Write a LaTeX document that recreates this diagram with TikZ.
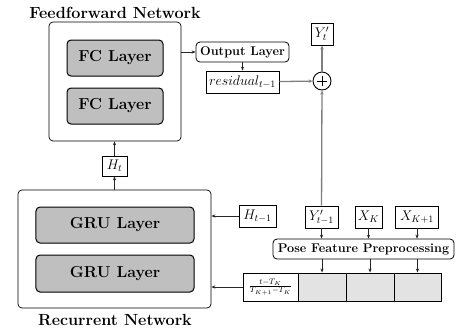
\RequirePackage{fix-cm}
\documentclass[tikz,border=0pt]{standalone}
\usetikzlibrary{arrows.meta}
\begin{document}
\begin{tikzpicture}[x=1bp,y=-1bp,
  box/.style={draw, inner sep=0pt, line width=0.7bp},
  outerbox/.style={box, rounded corners=4bp, fill=white},
  layer/.style={box, rounded corners=4bp, fill=gray!50, line width=1bp,
    font=\fontsize{16}{19}\selectfont\bfseries},
  title/.style={font=\fontsize{16.2}{19}\selectfont\bfseries, inner sep=0pt},
  var/.style={box, line width=0.9bp, font=\fontsize{14}{16}\selectfont},
  pill/.style={box, rounded corners=4bp, line width=0.8bp,
    font=\fontsize{12.7}{15}\selectfont\bfseries},
  cell/.style={box, line width=1bp, minimum height=28bp, fill=gray!22},
  arr/.style={-{Stealth[length=4bp,width=3.2bp]}, line width=0.6bp, black!85},
  garr/.style={-{Stealth[length=4bp,width=3.4bp]}, line width=1.3bp, gray},
]
\useasboundingbox (0,0) rectangle (464,330);

% feedforward part
\node[title] (fftitle) at (115,13) {Feedforward Network};
\node[outerbox, minimum width=132bp, minimum height=119bp] (ff) at (115,81.5) {};
\node[layer, minimum width=96bp, minimum height=36bp] (fc1) at (115,58) {FC Layer};
\node[layer, minimum width=96bp, minimum height=36bp] (fc2) at (115,106) {FC Layer};

% hidden state passed upwards
\node[var, minimum width=25bp, minimum height=20bp] (ht) at (114.5,166) {$H_t$};

% recurrent part
\node[outerbox, minimum width=193bp, minimum height=118bp] (rec) at (114.5,249) {};
\node[layer, minimum width=158bp, minimum height=36bp] (gru1) at (115,225) {GRU Layer};
\node[layer, minimum width=158bp, minimum height=37bp] (gru2) at (115,273.5) {GRU Layer};
\node[title] (rectitle) at (115,320) {Recurrent Network};

% output and residual
\node[pill, minimum width=93bp, minimum height=20bp] (out) at (242.5,52) {Output Layer};
\node[var, minimum width=73bp, minimum height=22bp] (res) at (242.5,82) {$residual_{t-1}$};
\node[draw, circle, line width=0.9bp, minimum size=18bp, inner sep=0pt] (plus) at (322,81) {};
\draw[line width=0.6bp] ([yshift=5bp]plus.center) -- ([yshift=-5bp]plus.center);
\draw[line width=0.6bp] ([xshift=-5bp]plus.center) -- ([xshift=5bp]plus.center);
\node[var, minimum width=22bp, minimum height=22bp] (yt) at (322,34) {$Y'_t$};

% inputs
\node[var, minimum width=37bp, minimum height=22bp] (htm) at (257.5,216) {$H_{t-1}$};
\node[var, minimum width=33bp, minimum height=22bp] (ytm) at (321.5,217) {$Y'_{t-1}$};
\node[var, minimum width=27bp, minimum height=22bp] (xk) at (368.5,217) {$X_K$};
\node[var, minimum width=43bp, minimum height=22bp] (xk1) at (417,217) {$X_{K+1}$};
\node[pill, minimum width=181bp, minimum height=20bp] (pose) at (363.5,249) {Pose Feature Preprocessing};

% feature vector
\node[cell, fill=white, minimum width=55bp] (c1) at (270.5,287)
  {\fontsize{11.5}{13}\selectfont$\frac{t-T_K}{T_{K+1}-T_K}$};
\node[cell, minimum width=48bp] (c2) at (322,287) {};
\node[cell, minimum width=48bp] (c3) at (370,287) {};
\node[cell, minimum width=47bp] (c4) at (417.5,287) {};

% connectors
\draw[arr] (rec.north -| ht) -- (ht);
\draw[arr] (ht) -- (ff.south -| ht);
\draw[arr] (ff.east |- out) -- (out);
\draw[arr] (out) -- (res);
\draw[garr] (res) -- (plus);
\draw[garr] (plus) -- (yt);
\draw[garr] (ytm) -- (plus);
\draw[arr] (htm) -- (rec.east |- htm);
\draw[arr] (c1) -- (rec.east |- c1);
\draw[arr] (ytm) -- (pose.north -| ytm);
\draw[arr] (xk) -- (pose.north -| xk);
\draw[arr] (xk1) -- (pose.north -| xk1);
\draw[arr] (pose.south -| c2) -- (c2);
\draw[arr] (pose.south -| c3) -- (c3);
\draw[arr] (pose.south -| c4) -- (c4);
\end{tikzpicture}
\end{document}
